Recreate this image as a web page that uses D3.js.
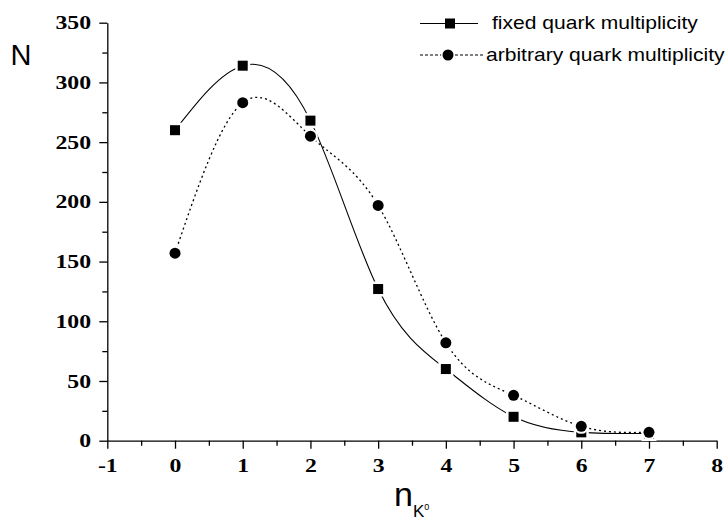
<html>
<head>
  <meta charset="utf-8">
  <script src="https://d3js.org/d3.v7.min.js"></script>
  <style>
    body { margin: 0; background: white; }
    .axis path, .axis line { stroke: black; stroke-width: 1.3px; }
    .axis text { font-family: "Liberation Serif", serif; font-weight: bold; font-size: 19px; fill: black; }
    .sans { font-family: "Liberation Sans", Arial, sans-serif; fill: black; }
  </style>
</head>
<body>
<svg id="chart" width="728" height="520"></svg>
<script>
  // values
  const nK = [0, 1, 2, 3, 4, 5, 6, 7];
  const fixedN = [260, 314, 268, 127, 60, 20, 7, 6];
  const arbitraryN = [157, 283, 255, 197, 82, 38, 12, 7];
  const xTicks = [-1, 0, 1, 2, 3, 4, 5, 6, 7, 8];
  const yTicks = [0, 50, 100, 150, 200, 250, 300, 350];

  const svg = d3.select("svg#chart");
  const margin = { left: 107.3, right: 11.3, top: 22.7, bottom: 79.3 };
  const width = 728, height = 520;

  const x = d3.scaleLinear().domain([-1, 8]).range([margin.left, width - margin.right]);
  const y = d3.scaleLinear().domain([0, 350]).range([height - margin.bottom, margin.top]);
  const stretch = "scale(1.25,1)";

  // minor ticks first, then the main axes
  svg.append("g").attr("class", "axis")
    .attr("transform", `translate(0,${y(0)})`)
    .call(d3.axisBottom(x).tickValues(d3.range(-0.5, 8, 1)).tickSize(5).tickFormat("").tickSizeOuter(0))
    .select(".domain").remove();
  svg.append("g").attr("class", "axis")
    .attr("transform", `translate(${x(-1)},0)`)
    .call(d3.axisLeft(y).tickValues(d3.range(25, 350, 50)).tickSize(5).tickFormat("").tickSizeOuter(0))
    .select(".domain").remove();

  const xAxis = svg.append("g").attr("class", "axis")
    .attr("transform", `translate(0,${y(0)})`)
    .call(d3.axisBottom(x).tickValues(xTicks).tickSize(8).tickSizeOuter(0).tickFormat(d => String(d)));
  xAxis.selectAll("text").attr("y", 31).attr("dy", 0).attr("transform", stretch);

  const yAxis = svg.append("g").attr("class", "axis")
    .attr("transform", `translate(${x(-1)},0)`)
    .call(d3.axisLeft(y).tickValues(yTicks).tickSize(8).tickSizeOuter(0).tickFormat(d => String(d)));
  yAxis.selectAll("text").attr("x", -13).attr("transform", stretch);

  const fixedPts = nK.map((k, i) => [k, fixedN[i]]);
  const arbPts = nK.map((k, i) => [k, arbitraryN[i]]);
  const line = d3.line().x(d => x(d[0])).y(d => y(d[1])).curve(d3.curveNatural);

  svg.append("path").attr("d", line(fixedPts))
    .attr("fill", "none").attr("stroke", "black").attr("stroke-width", 1.1);
  svg.append("path").attr("d", line(arbPts))
    .attr("fill", "none").attr("stroke", "black").attr("stroke-width", 1.3)
    .attr("stroke-dasharray", "2,3");

  // markers with a white halo so the curves stop short of them
  svg.selectAll("rect.fixed").data(fixedPts).join("rect").attr("class", "fixed")
    .attr("x", d => x(d[0]) - 5).attr("y", d => y(d[1]) - 5)
    .attr("width", 10).attr("height", 10)
    .attr("fill", "black").attr("stroke", "white").attr("stroke-width", 5)
    .style("paint-order", "stroke");
  svg.selectAll("circle.arb").data(arbPts).join("circle").attr("class", "arb")
    .attr("cx", d => x(d[0])).attr("cy", d => y(d[1])).attr("r", 5.5)
    .attr("fill", "black").attr("stroke", "white").attr("stroke-width", 4)
    .style("paint-order", "stroke");

  // legend
  const legend = svg.append("g");
  legend.append("line").attr("x1", 420).attr("x2", 478).attr("y1", 23.5).attr("y2", 23.5)
    .attr("stroke", "black").attr("stroke-width", 1.2);
  legend.append("rect").attr("x", 445).attr("y", 18.5).attr("width", 10).attr("height", 10).attr("fill", "black");
  legend.append("text").attr("class", "sans").attr("font-size", 18)
    .attr("transform", "translate(492,28.5) scale(1.17,1)").text("fixed quark multiplicity");

  legend.append("line").attr("x1", 420).attr("x2", 483).attr("y1", 55).attr("y2", 55)
    .attr("stroke", "black").attr("stroke-width", 1.2).attr("stroke-dasharray", "3,2");
  legend.append("circle").attr("cx", 448).attr("cy", 55).attr("r", 5.5).attr("fill", "black")
    .attr("stroke", "white").attr("stroke-width", 3).style("paint-order", "stroke");
  legend.append("text").attr("class", "sans").attr("font-size", 18)
    .attr("transform", "translate(486,61) scale(1.17,1)").text("arbitrary quark multiplicity");

  // axis titles
  svg.append("text").attr("class", "sans").attr("x", 10.5).attr("y", 64.5)
    .attr("font-size", 29).text("N");
  const xt = svg.append("text").attr("class", "sans").attr("x", 394).attr("y", 506);
  xt.append("tspan").attr("font-size", 34).text("n");
  xt.append("tspan").attr("font-size", 17).attr("dy", 11).text("K");
  xt.append("tspan").attr("font-size", 9).attr("dy", -7).text("0");
</script>
</body>
</html>
